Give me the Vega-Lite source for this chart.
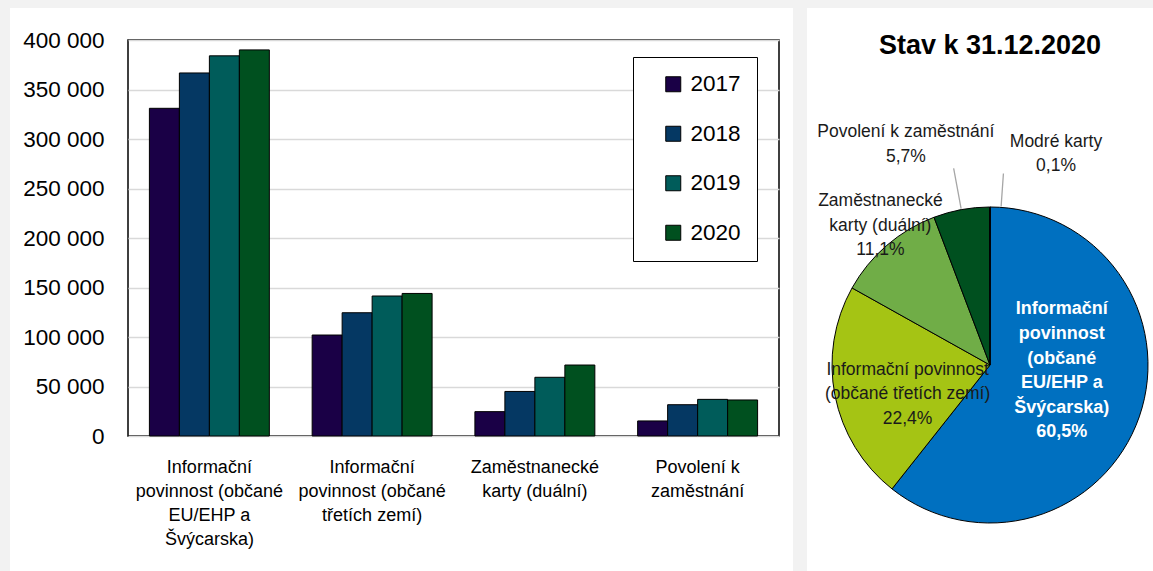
{
  "$schema": "https://vega.github.io/schema/vega-lite/v6.json",
  "background": "white",
  "padding": {"left": 0, "top": 0, "right": -20, "bottom": 0},
  "spacing": 0,
  "resolve": {"scale": {"color": "independent"}, "legend": {"color": "independent"}},
  "config": {
    "view": {"stroke": null},
    "font": "Liberation Sans",
    "concat": {"spacing": 0}
  },
  "datasets": {
    "sloupce": [
      {"kategorie": "Informační povinnost (občané EU/EHP a Švýcarska)", "rok": "2017", "pocet": 331000},
      {"kategorie": "Informační povinnost (občané EU/EHP a Švýcarska)", "rok": "2018", "pocet": 366700},
      {"kategorie": "Informační povinnost (občané EU/EHP a Švýcarska)", "rok": "2019", "pocet": 384000},
      {"kategorie": "Informační povinnost (občané EU/EHP a Švýcarska)", "rok": "2020", "pocet": 390000},
      {"kategorie": "Informační povinnost (občané třetích zemí)", "rok": "2017", "pocet": 102000},
      {"kategorie": "Informační povinnost (občané třetích zemí)", "rok": "2018", "pocet": 124500},
      {"kategorie": "Informační povinnost (občané třetích zemí)", "rok": "2019", "pocet": 141400},
      {"kategorie": "Informační povinnost (občané třetích zemí)", "rok": "2020", "pocet": 144000},
      {"kategorie": "Zaměstnanecké karty (duální)", "rok": "2017", "pocet": 24600},
      {"kategorie": "Zaměstnanecké karty (duální)", "rok": "2018", "pocet": 45000},
      {"kategorie": "Zaměstnanecké karty (duální)", "rok": "2019", "pocet": 59300},
      {"kategorie": "Zaměstnanecké karty (duální)", "rok": "2020", "pocet": 71700},
      {"kategorie": "Povolení k zaměstnání", "rok": "2017", "pocet": 15200},
      {"kategorie": "Povolení k zaměstnání", "rok": "2018", "pocet": 31600},
      {"kategorie": "Povolení k zaměstnání", "rok": "2019", "pocet": 37000},
      {"kategorie": "Povolení k zaměstnání", "rok": "2020", "pocet": 36400}
    ],
    "kolac": [
      {"kategorie": "Informační povinnost (občané EU/EHP a Švýcarska)", "podil": 60.5},
      {"kategorie": "Informační povinnost (občané třetích zemí)", "podil": 22.4},
      {"kategorie": "Zaměstnanecké karty (duální)", "podil": 11.1},
      {"kategorie": "Povolení k zaměstnání", "podil": 5.7},
      {"kategorie": "Modré karty", "podil": 0.1}
    ],
    "prazdna": []
  },
  "vconcat": [
    {"width": 1173, "height": 8, "data": {"name": "prazdna"}, "mark": "rect", "view": {"fill": "#f2f2f2", "stroke": null}},
    {
      "spacing": 0,
      "resolve": {"scale": {"color": "independent"}, "legend": {"color": "independent"}},
      "hconcat": [
        {"width": 10, "height": 563, "data": {"name": "prazdna"}, "mark": "rect", "view": {"fill": "#f2f2f2", "stroke": null}},
        {
          "spacing": 0,
          "vconcat": [
            {"width": 1, "height": 20, "data": {"name": "prazdna"}, "mark": "rect"},
            {
              "spacing": 0,
              "hconcat": [
                {"width": 11, "height": 1, "data": {"name": "prazdna"}, "mark": "rect"},
                {
                  "width": 651,
                  "height": 396,
                  "data": {"name": "sloupce"},
                  "view": {"stroke": "black", "strokeWidth": 1.5, "fill": "white"},
                  "mark": {"type": "bar", "stroke": "black", "strokeWidth": 1},
                  "encoding": {
                    "x": {
                      "field": "kategorie", "type": "nominal", "sort": null,
                      "scale": {"paddingInner": 0.263, "paddingOuter": 0.1315},
                      "axis": {
                        "title": null, "labelAngle": 0, "domain": false, "ticks": false,
                        "labelFontSize": 18, "labelLineHeight": 24, "labelPadding": 22,
                        "labelColor": "black", "labelLimit": 0, "labelBaseline": "top",
                        "labelExpr": "{'Informační povinnost (občané EU/EHP a Švýcarska)': ['Informační', 'povinnost (občané', 'EU/EHP a', 'Švýcarska)'], 'Informační povinnost (občané třetích zemí)': ['Informační', 'povinnost (občané', 'třetích zemí)'], 'Zaměstnanecké karty (duální)': ['Zaměstnanecké', 'karty (duální)'], 'Povolení k zaměstnání': ['Povolení k', 'zaměstnání']}[datum.value]"
                      }
                    },
                    "xOffset": {"field": "rok", "type": "nominal", "scale": {"paddingInner": 0, "paddingOuter": 0}},
                    "y": {
                      "field": "pocet", "type": "quantitative",
                      "scale": {"domain": [0, 400000], "nice": false},
                      "axis": {
                        "title": null,
                        "values": [0, 50000, 100000, 150000, 200000, 250000, 300000, 350000, 400000],
                        "domain": false, "ticks": false, "grid": true,
                        "gridColor": "#d9d9d9", "gridWidth": 1.5,
                        "labelFontSize": 22.5, "labelPadding": 24, "labelColor": "black",
                        "labelExpr": "replace(format(datum.value, ','), regexp(',', 'g'), ' ')"
                      }
                    },
                    "color": {
                      "field": "rok", "type": "nominal",
                      "scale": {"domain": ["2017", "2018", "2019", "2020"], "range": ["#1a0046", "#053863", "#005c5a", "#00501f"]},
                      "legend": {
                        "title": null, "orient": "none", "legendX": 623, "legendY": 49,
                        "strokeColor": "black", "fillColor": "white", "padding": 16,
                        "symbolType": "square", "symbolSize": 225,
                        "symbolStrokeColor": "black", "symbolStrokeWidth": 1, "symbolOffset": 13,
                        "labelFontSize": 22.5, "labelOffset": 6, "rowPadding": 26.5, "labelColor": "black"
                      }
                    }
                  }
                },
                {"width": 13, "height": 1, "data": {"name": "prazdna"}, "mark": "rect"}
              ]
            }
          ]
        },
        {"width": 14, "height": 563, "data": {"name": "prazdna"}, "mark": "rect", "view": {"fill": "#f2f2f2", "stroke": null}},
        {
          "spacing": 0,
          "vconcat": [
            {"width": 1, "height": 24, "data": {"name": "prazdna"}, "mark": "rect"},
            {
              "width": 366,
              "height": 410,
              "title": {"text": "Stav k 31.12.2020", "fontSize": 27, "fontWeight": "bold", "color": "black", "offset": 63, "anchor": "middle", "frame": "group"},
              "data": {"name": "kolac"},
              "transform": [
                {"calculate": "split({'Informační povinnost (občané EU/EHP a Švýcarska)': 'Informační|povinnost|(občané|EU/EHP a|Švýcarska)', 'Informační povinnost (občané třetích zemí)': 'Informační povinnost|(občané třetích zemí)', 'Zaměstnanecké karty (duální)': 'Zaměstnanecké|karty (duální)', 'Povolení k zaměstnání': 'Povolení k zaměstnání', 'Modré karty': 'Modré karty'}[datum.kategorie] + '|' + replace(format(datum.podil, '.1f'), '.', ',') + '%', '|')", "as": "popisek"},
                {"stack": "podil", "groupby": [], "sort": [{"field": "podil", "order": "descending"}], "as": ["t0", "t1"]},
                {"calculate": "(datum.t0 + datum.t1) / 2", "as": "tstred"}
              ],
              "layer": [
                {
                  "mark": {"type": "arc", "radius": 158, "stroke": "black", "strokeWidth": 1},
                  "encoding": {
                    "theta": {"field": "t0", "type": "quantitative", "scale": {"nice": false, "zero": true}},
                    "theta2": {"field": "t1"},
                    "color": {
                      "field": "kategorie", "type": "nominal",
                      "scale": {
                        "domain": ["Informační povinnost (občané EU/EHP a Švýcarska)", "Informační povinnost (občané třetích zemí)", "Zaměstnanecké karty (duální)", "Povolení k zaměstnání", "Modré karty"],
                        "range": ["#0070c0", "#a5c414", "#70ad47", "#00501f", "#1a0046"]
                      },
                      "legend": null
                    }
                  }
                },
                {
                  "transform": [{"filter": "datum.kategorie === 'Povolení k zaměstnání'"}],
                  "mark": {"type": "arc", "radius": 159, "radius2": 200, "fill": null, "fillOpacity": 0, "stroke": "#a6a6a6", "strokeWidth": 1.3},
                  "encoding": {"theta": {"field": "tstred", "type": "quantitative"}, "theta2": {"field": "tstred"}}
                },
                {
                  "transform": [{"filter": "datum.kategorie === 'Modré karty'"}],
                  "mark": {"type": "arc", "radius": 159, "radius2": 192, "thetaOffset": 0.07, "theta2Offset": 0.07, "fill": null, "fillOpacity": 0, "stroke": "#a6a6a6", "strokeWidth": 1.3},
                  "encoding": {"theta": {"field": "tstred", "type": "quantitative"}, "theta2": {"field": "tstred"}}
                },
                {
                  "transform": [{"filter": "datum.kategorie === 'Informační povinnost (občané EU/EHP a Švýcarska)'"}],
                  "mark": {"type": "text", "radius": 76, "dy": -80.5, "fontSize": 18, "fontWeight": "bold", "color": "white", "lineHeight": 24.6, "align": "center", "baseline": "middle"},
                  "encoding": {"theta": {"field": "tstred", "type": "quantitative"}, "text": {"field": "popisek", "type": "nominal"}}
                },
                {
                  "transform": [{"filter": "datum.kategorie === 'Informační povinnost (občané třetích zemí)'"}],
                  "mark": {"type": "text", "radius": 84, "dy": -11.5, "fontSize": 17.5, "color": "#1a1a1a", "lineHeight": 24.5, "align": "center", "baseline": "middle"},
                  "encoding": {"theta": {"field": "tstred", "type": "quantitative"}, "text": {"field": "popisek", "type": "nominal"}}
                },
                {
                  "transform": [{"filter": "datum.kategorie === 'Zaměstnanecké karty (duální)'"}],
                  "mark": {"type": "text", "radius": 177, "dx": 6, "dy": -29.5, "fontSize": 17.5, "color": "#1a1a1a", "lineHeight": 24.5, "align": "center", "baseline": "middle"},
                  "encoding": {"theta": {"field": "tstred", "type": "quantitative"}, "text": {"field": "popisek", "type": "nominal"}}
                },
                {
                  "transform": [{"filter": "datum.kategorie === 'Povolení k zaměstnání'"}],
                  "mark": {"type": "text", "radius": 232, "dx": -42, "dy": -4.5, "fontSize": 17.5, "color": "#1a1a1a", "lineHeight": 25, "align": "center", "baseline": "middle"},
                  "encoding": {"theta": {"field": "tstred", "type": "quantitative"}, "text": {"field": "popisek", "type": "nominal"}}
                },
                {
                  "transform": [{"filter": "datum.kategorie === 'Modré karty'"}],
                  "mark": {"type": "text", "radius": 211, "dx": 66, "dy": -12, "fontSize": 17.5, "color": "#1a1a1a", "lineHeight": 24, "align": "center", "baseline": "middle"},
                  "encoding": {"theta": {"field": "tstred", "type": "quantitative"}, "text": {"field": "popisek", "type": "nominal"}}
                }
              ]
            }
          ]
        }
      ]
    }
  ]
}
